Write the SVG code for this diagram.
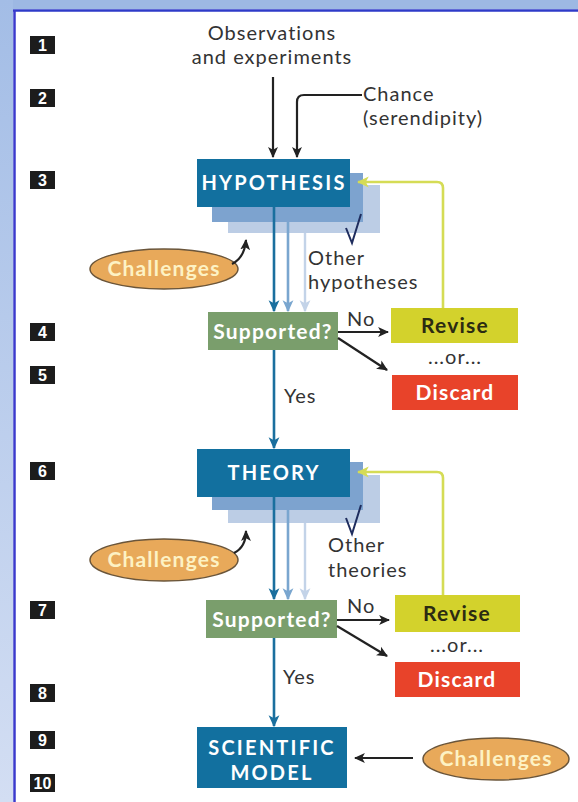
<svg xmlns="http://www.w3.org/2000/svg" width="578" height="802" viewBox="0 0 578 802">
<defs>
<style>
.lbl{font-family:Lato,"Open Sans",sans-serif;font-size:20px;fill:#333;letter-spacing:1px}
.bx{font-family:Lato,"Open Sans",sans-serif;font-size:20px;font-weight:700;fill:#fff;letter-spacing:2.2px;text-anchor:middle}
.sm{font-family:Lato,"Open Sans",sans-serif;font-size:21px;font-weight:700;letter-spacing:1.2px;text-anchor:middle}
.ch{font-family:Lato,"Open Sans",sans-serif;font-size:21px;font-weight:700;fill:#fdf2c4;letter-spacing:1.2px;text-anchor:middle}
.num{font-family:"Liberation Sans",sans-serif;font-size:16px;font-weight:700;fill:#fff;text-anchor:middle}
.nb{fill:#1c1c1c}
.main{fill:#12709f}
.l2{fill:#7da3cf}
.l3{fill:#bccde5}
.blk{fill:none;stroke:#222;stroke-width:2.2}
.tdk{fill:none;stroke:#1a6f9e;stroke-width:2.6}
.tmd{fill:none;stroke:#7aa6cf;stroke-width:2.6}
.tlt{fill:none;stroke:#c3d3e8;stroke-width:2.4}
.yel{fill:none;stroke:#d5dc55;stroke-width:2.6}
.ell{fill:#e8a95a;stroke:#6a553a;stroke-width:1.5}
.chk{fill:none;stroke:#1f2d5e;stroke-width:2}
</style>
<marker id="mb" viewBox="0 0 10 10" refX="9" refY="5" markerWidth="11" markerHeight="11" markerUnits="userSpaceOnUse" orient="auto"><path d="M0,0.5 L10,5 L0,9.5 L2.5,5 z" fill="#222"/></marker>
<marker id="mt" viewBox="0 0 10 10" refX="9" refY="5" markerWidth="12" markerHeight="12" markerUnits="userSpaceOnUse" orient="auto"><path d="M0,0.5 L10,5 L0,9.5 L2.5,5 z" fill="#1a6f9e"/></marker>
<marker id="mm" viewBox="0 0 10 10" refX="9" refY="5" markerWidth="12" markerHeight="12" markerUnits="userSpaceOnUse" orient="auto"><path d="M0,0.5 L10,5 L0,9.5 L2.5,5 z" fill="#7aa6cf"/></marker>
<marker id="ml" viewBox="0 0 10 10" refX="9" refY="5" markerWidth="12" markerHeight="12" markerUnits="userSpaceOnUse" orient="auto"><path d="M0,0.5 L10,5 L0,9.5 L2.5,5 z" fill="#c3d3e8"/></marker>
<marker id="my" viewBox="0 0 10 10" refX="9" refY="5" markerWidth="12" markerHeight="12" markerUnits="userSpaceOnUse" orient="auto"><path d="M0,0.5 L10,5 L0,9.5 L2.5,5 z" fill="#d5dc55"/></marker>
<linearGradient id="lg" x1="0" y1="0" x2="0" y2="1"><stop offset="0" stop-color="#a3bde6"/><stop offset="1" stop-color="#d3def3"/></linearGradient>
</defs>

<g id="frame">
<rect x="0" y="0" width="578" height="802" fill="#fff"/>
<rect x="0" y="0" width="578" height="9" fill="#9db8e3"/>
<rect x="0" y="0" width="13" height="802" fill="url(#lg)"/>
<line x1="13" y1="10.5" x2="578" y2="10.5" stroke="#2e3ac8" stroke-width="2.5"/>
<line x1="14.5" y1="10" x2="14.5" y2="802" stroke="#3a3acc" stroke-width="2.5"/>
</g>

<g id="numbers">
<rect class="nb" x="30" y="36" width="25" height="18"/><text class="num" x="42.5" y="51">1</text>
<rect class="nb" x="30" y="89" width="25" height="18"/><text class="num" x="42.5" y="104">2</text>
<rect class="nb" x="30" y="171" width="25" height="18"/><text class="num" x="42.5" y="186">3</text>
<rect class="nb" x="30" y="323" width="25" height="18"/><text class="num" x="42.5" y="338">4</text>
<rect class="nb" x="30" y="366" width="25" height="18"/><text class="num" x="42.5" y="381">5</text>
<rect class="nb" x="30" y="462" width="25" height="18"/><text class="num" x="42.5" y="477">6</text>
<rect class="nb" x="30" y="601" width="25" height="18"/><text class="num" x="42.5" y="616">7</text>
<rect class="nb" x="30" y="684" width="25" height="18"/><text class="num" x="42.5" y="699">8</text>
<rect class="nb" x="30" y="731" width="25" height="18"/><text class="num" x="42.5" y="746">9</text>
<rect class="nb" x="30" y="774" width="25" height="18"/><text class="num" x="42.5" y="789">10</text>
</g>

<g id="observations">
<text class="lbl" x="272" y="40" text-anchor="middle">Observations</text>
<text class="lbl" x="272" y="64" text-anchor="middle">and experiments</text>
</g>
<g id="chance">
<text class="lbl" x="363" y="101">Chance</text>
<text class="lbl" x="363" y="125">(serendipity)</text>
</g>

<g id="hypothesis">
<rect class="l3" x="228" y="185" width="152" height="48"/>
<rect class="l2" x="212" y="173" width="151" height="49"/>
<rect class="main" x="197" y="159" width="153" height="48"/>
<text class="bx" x="274" y="190">HYPOTHESIS</text>
</g>
<g id="other-hypotheses">
<path class="chk" d="M346,228 L352,243 L361,214"/>
<text class="lbl" x="308" y="265">Other</text>
<text class="lbl" x="308" y="289">hypotheses</text>
</g>
<g id="challenges1">
<ellipse class="ell" cx="164" cy="269" rx="74" ry="20"/>
<text class="ch" x="164" y="276">Challenges</text>
</g>
<g id="supported1">
<rect x="208" y="312" width="130" height="38" fill="#7a9e6c"/>
<text class="sm" x="273" y="339" fill="#fff">Supported?</text>
</g>
<g id="revise1">
<rect x="391" y="308" width="127" height="35" fill="#d3d22c"/>
<text class="sm" x="455" y="333" fill="#2b2b12">Revise</text>
</g>
<text class="lbl" x="455" y="364" text-anchor="middle" font-size="19">...or...</text>
<g id="discard1">
<rect x="392" y="375" width="126" height="35" fill="#e8432a"/>
<text class="sm" x="455" y="400" fill="#fff">Discard</text>
</g>

<g id="theory">
<rect class="l3" x="228" y="475" width="152" height="48"/>
<rect class="l2" x="212" y="462" width="151" height="48"/>
<rect class="main" x="197" y="449" width="153" height="48"/>
<text class="bx" x="274" y="480">THEORY</text>
</g>
<g id="other-theories">
<path class="chk" d="M346,518 L352,534 L361,505"/>
<text class="lbl" x="328" y="552">Other</text>
<text class="lbl" x="328" y="577">theories</text>
</g>
<g id="challenges2">
<ellipse class="ell" cx="164" cy="560" rx="74" ry="21"/>
<text class="ch" x="164" y="567">Challenges</text>
</g>
<g id="supported2">
<rect x="206" y="600" width="131" height="38" fill="#7a9e6c"/>
<text class="sm" x="272" y="627" fill="#fff">Supported?</text>
</g>
<g id="revise2">
<rect x="395" y="595" width="125" height="37" fill="#d3d22c"/>
<text class="sm" x="457" y="621" fill="#2b2b12">Revise</text>
</g>
<text class="lbl" x="457" y="652" text-anchor="middle" font-size="19">...or...</text>
<g id="discard2">
<rect x="395" y="662" width="125" height="35" fill="#e8432a"/>
<text class="sm" x="457" y="687" fill="#fff">Discard</text>
</g>

<g id="model">
<rect class="main" x="197" y="727" width="150" height="61"/>
<text class="bx" x="272" y="755">SCIENTIFIC</text>
<text class="bx" x="272" y="780">MODEL</text>
</g>
<g id="challenges3">
<ellipse class="ell" cx="496" cy="759" rx="73" ry="21"/>
<text class="ch" x="496" y="766">Challenges</text>
</g>

<g id="connectors">
<path class="blk" d="M273,77 V157" marker-end="url(#mb)"/>
<path class="blk" d="M362,95 H304 Q297,95 297,102 V157" marker-end="url(#mb)"/>
<path class="tdk" d="M274,207 V311" marker-end="url(#mt)"/>
<path class="tmd" d="M288,222 V311" marker-end="url(#mm)"/>
<path class="tlt" d="M305,233 V311" marker-end="url(#ml)"/>
<path class="blk" d="M232,264 C240,260 245,252 246,240" marker-end="url(#mb)"/>
<path class="yel" d="M443,308 V188 Q443,182 437,182 H358" marker-end="url(#my)"/>
<path class="blk" d="M338,332 H388" marker-end="url(#mb)"/>
<path class="blk" d="M338,338 L387,370" marker-end="url(#mb)"/>
<text class="lbl" x="347" y="326">No</text>
<path class="tdk" d="M274,350 V448" marker-end="url(#mt)"/>
<text class="lbl" x="284" y="403">Yes</text>

<path class="tdk" d="M274,497 V599" marker-end="url(#mt)"/>
<path class="tmd" d="M288,510 V599" marker-end="url(#mm)"/>
<path class="tlt" d="M305,523 V599" marker-end="url(#ml)"/>
<path class="blk" d="M234,553 C242,549 246,542 246,531" marker-end="url(#mb)"/>
<path class="yel" d="M443,595 V478 Q443,472 437,472 H358" marker-end="url(#my)"/>
<path class="blk" d="M337,620 H389" marker-end="url(#mb)"/>
<path class="blk" d="M337,626 L387,656" marker-end="url(#mb)"/>
<text class="lbl" x="347" y="613">No</text>
<path class="tdk" d="M274,638 V726" marker-end="url(#mt)"/>
<text class="lbl" x="283" y="684">Yes</text>
<path class="blk" d="M413,758 H355" marker-end="url(#mb)"/>
</g>
</svg>
